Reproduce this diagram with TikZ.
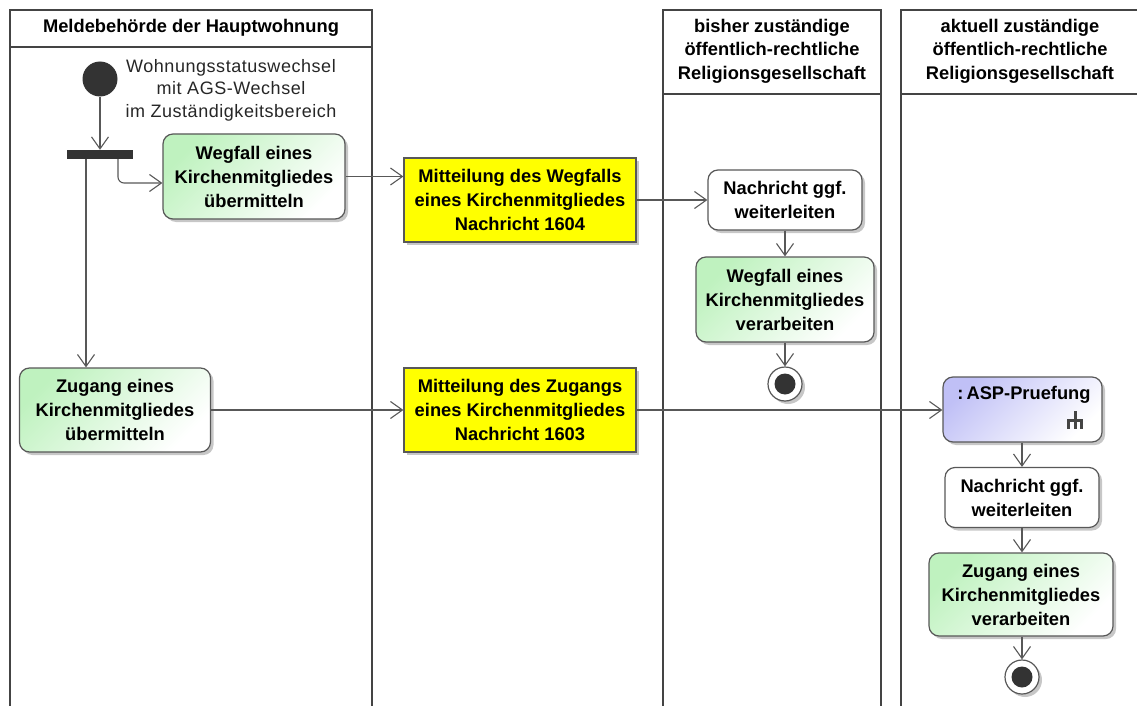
\documentclass[tikz,border=0pt]{standalone}
\usepackage{fontspec}
\setmainfont{Liberation Sans}
\usetikzlibrary{arrows.meta,shadows,calc}
\definecolor{lanecol}{HTML}{444444}
\definecolor{linecol}{HTML}{585858}
\definecolor{dotcol}{HTML}{333333}
\definecolor{greenc}{HTML}{BFF2BF}
\definecolor{bluec}{HTML}{C0C0F6}
\definecolor{yel}{HTML}{FFFF00}
\tikzset{
  lane/.style={draw=lanecol, line width=2.4pt},
  hdr/.style={align=center, font=\bfseries\fontsize{18.3}{23.5}\selectfont},
  shd/.style={drop shadow={shadow xshift=3pt, shadow yshift=-3pt, fill=black!40, opacity=0.55}},
  act/.style={draw=linecol, line width=1.2pt, rounded corners=10pt, align=center,
    inner sep=0pt, font=\bfseries\fontsize{18.3}{24}\selectfont, shd},
  greenact/.style={act, top color=greenc, bottom color=white, shading angle=45},
  whiteact/.style={act, fill=white},
  blueact/.style={act, top color=bluec, bottom color=white, shading angle=45},
  objbox/.style={draw=linecol, line width=1.2pt, fill=yel, align=center, inner sep=0pt,
    font=\bfseries\fontsize{18.3}{24}\selectfont, shd},
  arr/.style={draw=linecol, line width=1.1pt, -{Straight Barb[length=12pt,width=17pt,line width=1.1pt]}},
  endnode/.style={circle, draw=linecol, line width=1.2pt, fill=white, minimum size=34pt, inner sep=0pt, shd},
  dotnode/.style={circle, fill=dotcol, inner sep=0pt}
}
\begin{document}
\begin{tikzpicture}[x=1pt,y=-1pt]
\useasboundingbox (0,0) rectangle (1137,706);
% lanes
\draw[lane] (10,706) -- (10,10) -- (372,10) -- (372,706);
\draw[lane] (10,47) -- (372,47);
\draw[lane] (663,706) -- (663,10) -- (881,10) -- (881,706);
\draw[lane] (663,94) -- (881,94);
\draw[lane] (901,706) -- (901,10) -- (1140,10);
\draw[lane] (901,94) -- (1140,94);
\node[hdr] (h1) at (191,28) {Meldebehörde der Hauptwohnung};
\node[hdr] (h3) at (772,51) {bisher zuständige\\öffentlich-rechtliche\\Religionsgesellschaft};
\node[hdr] (h4) at (1020,51) {aktuell zuständige\\öffentlich-rechtliche\\Religionsgesellschaft};
% start + fork
\node[dotnode, minimum size=35pt] (start) at (100,79) {};
\node[align=center, text=black!85, font=\addfontfeature{LetterSpace=3}\fontsize{18}{22.5}\selectfont] (startlbl) at (231,90)
  {Wohnungsstatuswechsel\\mit AGS-Wechsel\\im Zuständigkeitsbereich};
\node[fill=dotcol, minimum width=66pt, minimum height=9pt, inner sep=0pt] (fork) at (100,154.5) {};
% activities
\node[greenact, minimum width=182pt, minimum height=85pt] (wegU) at (254,176.5)
  {Wegfall eines\\Kirchenmitgliedes\\übermitteln};
\node[greenact, minimum width=191pt, minimum height=84pt] (zugU) at (115,410)
  {Zugang eines\\Kirchenmitgliedes\\übermitteln};
\node[objbox, minimum width=232pt, minimum height=84pt] (y1) at (520,200)
  {Mitteilung des Wegfalls\\eines Kirchenmitgliedes\\Nachricht 1604};
\node[objbox, minimum width=232pt, minimum height=84pt] (y2) at (520,410)
  {Mitteilung des Zugangs\\eines Kirchenmitgliedes\\Nachricht 1603};
\node[whiteact, minimum width=154pt, minimum height=60pt] (n1) at (785,200)
  {Nachricht ggf.\\weiterleiten};
\node[greenact, minimum width=178pt, minimum height=85pt] (wegV) at (785,299.5)
  {Wegfall eines\\Kirchenmitgliedes\\verarbeiten};
\node[endnode] (end1) at (785,384) {};
\node[dotnode, minimum size=21pt] (end1dot) at (end1) {};
\node[blueact, minimum width=159pt, minimum height=65pt] (asp) at (1022.5,409.5) {};
\node[font=\bfseries\fontsize{18.3}{24}\selectfont] (asplbl) at (1024,395) {:\,ASP-Pruefung};
\draw[draw=lanecol, line width=3pt] (1075,411) -- (1075,429)
  (1068.5,429) -- (1068.5,420.5) -- (1081.5,420.5) -- (1081.5,429);
\node[whiteact, minimum width=154pt, minimum height=60pt] (n2) at (1022,497.5)
  {Nachricht ggf.\\weiterleiten};
\node[greenact, minimum width=184pt, minimum height=83pt] (zugV) at (1021,594.5)
  {Zugang eines\\Kirchenmitgliedes\\verarbeiten};
\node[endnode] (end2) at (1022,677) {};
\node[dotnode, minimum size=21pt] (end2dot) at (end2) {};
% connectors
\draw[arr] (start) -- (fork);
\coordinate (f2) at ($(fork.south)+(18,0)$);
\coordinate (f1) at ($(fork.south)+(-14,0)$);
\coordinate (wegin) at ($(wegU.west)+(0,6.5)$);
\draw[arr, rounded corners=6pt] (f2) |- (wegin);
\draw[arr] (f1) -- (f1 |- zugU.north);
\draw[arr] (wegU.east) -- (wegU.east -| y1.west);
\draw[arr] (y1.east) -- (n1.west);
\draw[arr] (n1.south) -- (n1.south |- wegV.north);
\draw[arr] (wegV.south) -- (wegV.south |- end1.north);
\draw[arr] (zugU.east) -- (y2.west);
\draw[arr] (y2.east) -- (y2.east -| asp.west);
\draw[arr] (asp.south -| end2) -- (end2 |- n2.north);
\draw[arr] (n2.south -| end2) -- (end2 |- zugV.north);
\draw[arr] (zugV.south -| end2) -- (end2.north);
\end{tikzpicture}
\end{document}
